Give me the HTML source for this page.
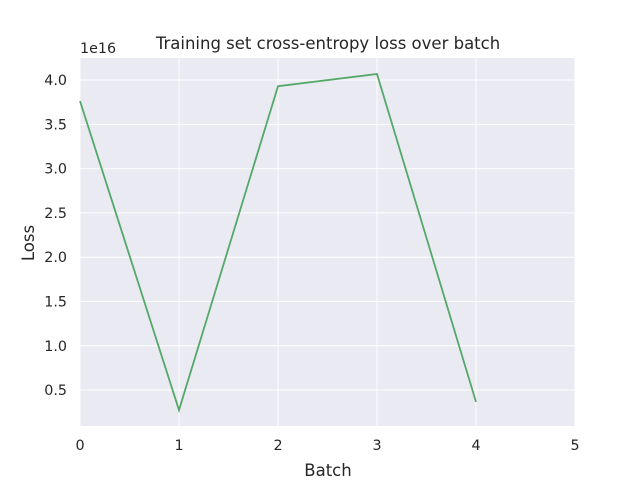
<!DOCTYPE html>
<html><head><meta charset="utf-8"><style>
body{margin:0;background:#fff;font-family:"DejaVu Sans","Liberation Sans",sans-serif;}
svg text{font-family:"DejaVu Sans","Liberation Sans",sans-serif;fill:#262626;}
</style></head><body>
<svg id="chart" width="640" height="480" xmlns="http://www.w3.org/2000/svg">
<rect x="0" y="0" width="640" height="480" fill="#fff"/>
<rect x="80" y="58" width="495" height="368" fill="#eaeaf2"/>
<g id="grid"></g>
<g id="ticks"></g>
<polyline id="line" fill="none" stroke="#55a868" stroke-width="1.8"/>
<text x="328" y="49" text-anchor="middle" font-size="16.5">Training set cross-entropy loss over batch</text>
<text x="328" y="476" text-anchor="middle" font-size="16.5">Batch</text>
<text x="34" y="243" text-anchor="middle" font-size="16.5" transform="rotate(-90 34 243)">Loss</text>
<text x="80" y="53" font-size="14.3">1e16</text>
</svg>
<script>
const batches=[0,1,2,3,4];
const losses=[3.763,0.274,3.93,4.068,0.366];
const xTicks=[0,1,2,3,4,5];
const yTicks=[0.5,1.0,1.5,2.0,2.5,3.0,3.5,4.0];
const NS="http://www.w3.org/2000/svg";
const X0=80,X1=575,Y0=426,Y1=58,xmin=0,xmax=5,ymin=0.094,ymax=4.249;
function sx(v){return X0+(v-xmin)/(xmax-xmin)*(X1-X0);}
function sy(v){return Y0-(v-ymin)/(ymax-ymin)*(Y0-Y1);}
const grid=document.getElementById('grid'),ticks=document.getElementById('ticks');
function mk(t,a,p){const e=document.createElementNS(NS,t);for(const k in a)e.setAttribute(k,a[k]);p.appendChild(e);return e;}
xTicks.forEach(t=>{
 const l=mk('line',{x1:sx(t),x2:sx(t),y1:Y1,y2:Y0,stroke:'#fff','stroke-width':1},grid);
 
 
 const tx=mk('text',{x:sx(t),y:Y0+24,'text-anchor':'middle','font-size':14.3},ticks);
 tx.textContent=t;
 
 
});
yTicks.forEach(t=>{
 const l=mk('line',{x1:X0,x2:X1,y1:sy(t),y2:sy(t),stroke:'#fff','stroke-width':1},grid);
 
 
 const tx=mk('text',{x:X0-13,y:sy(t)+5,'text-anchor':'end','font-size':14.3},ticks);
 tx.textContent=t.toFixed(1);
 
 
});
document.getElementById('line').setAttribute('points',batches.map((b,i)=>sx(b)+','+sy(losses[i])).join(' '));
</script>
</body></html>
